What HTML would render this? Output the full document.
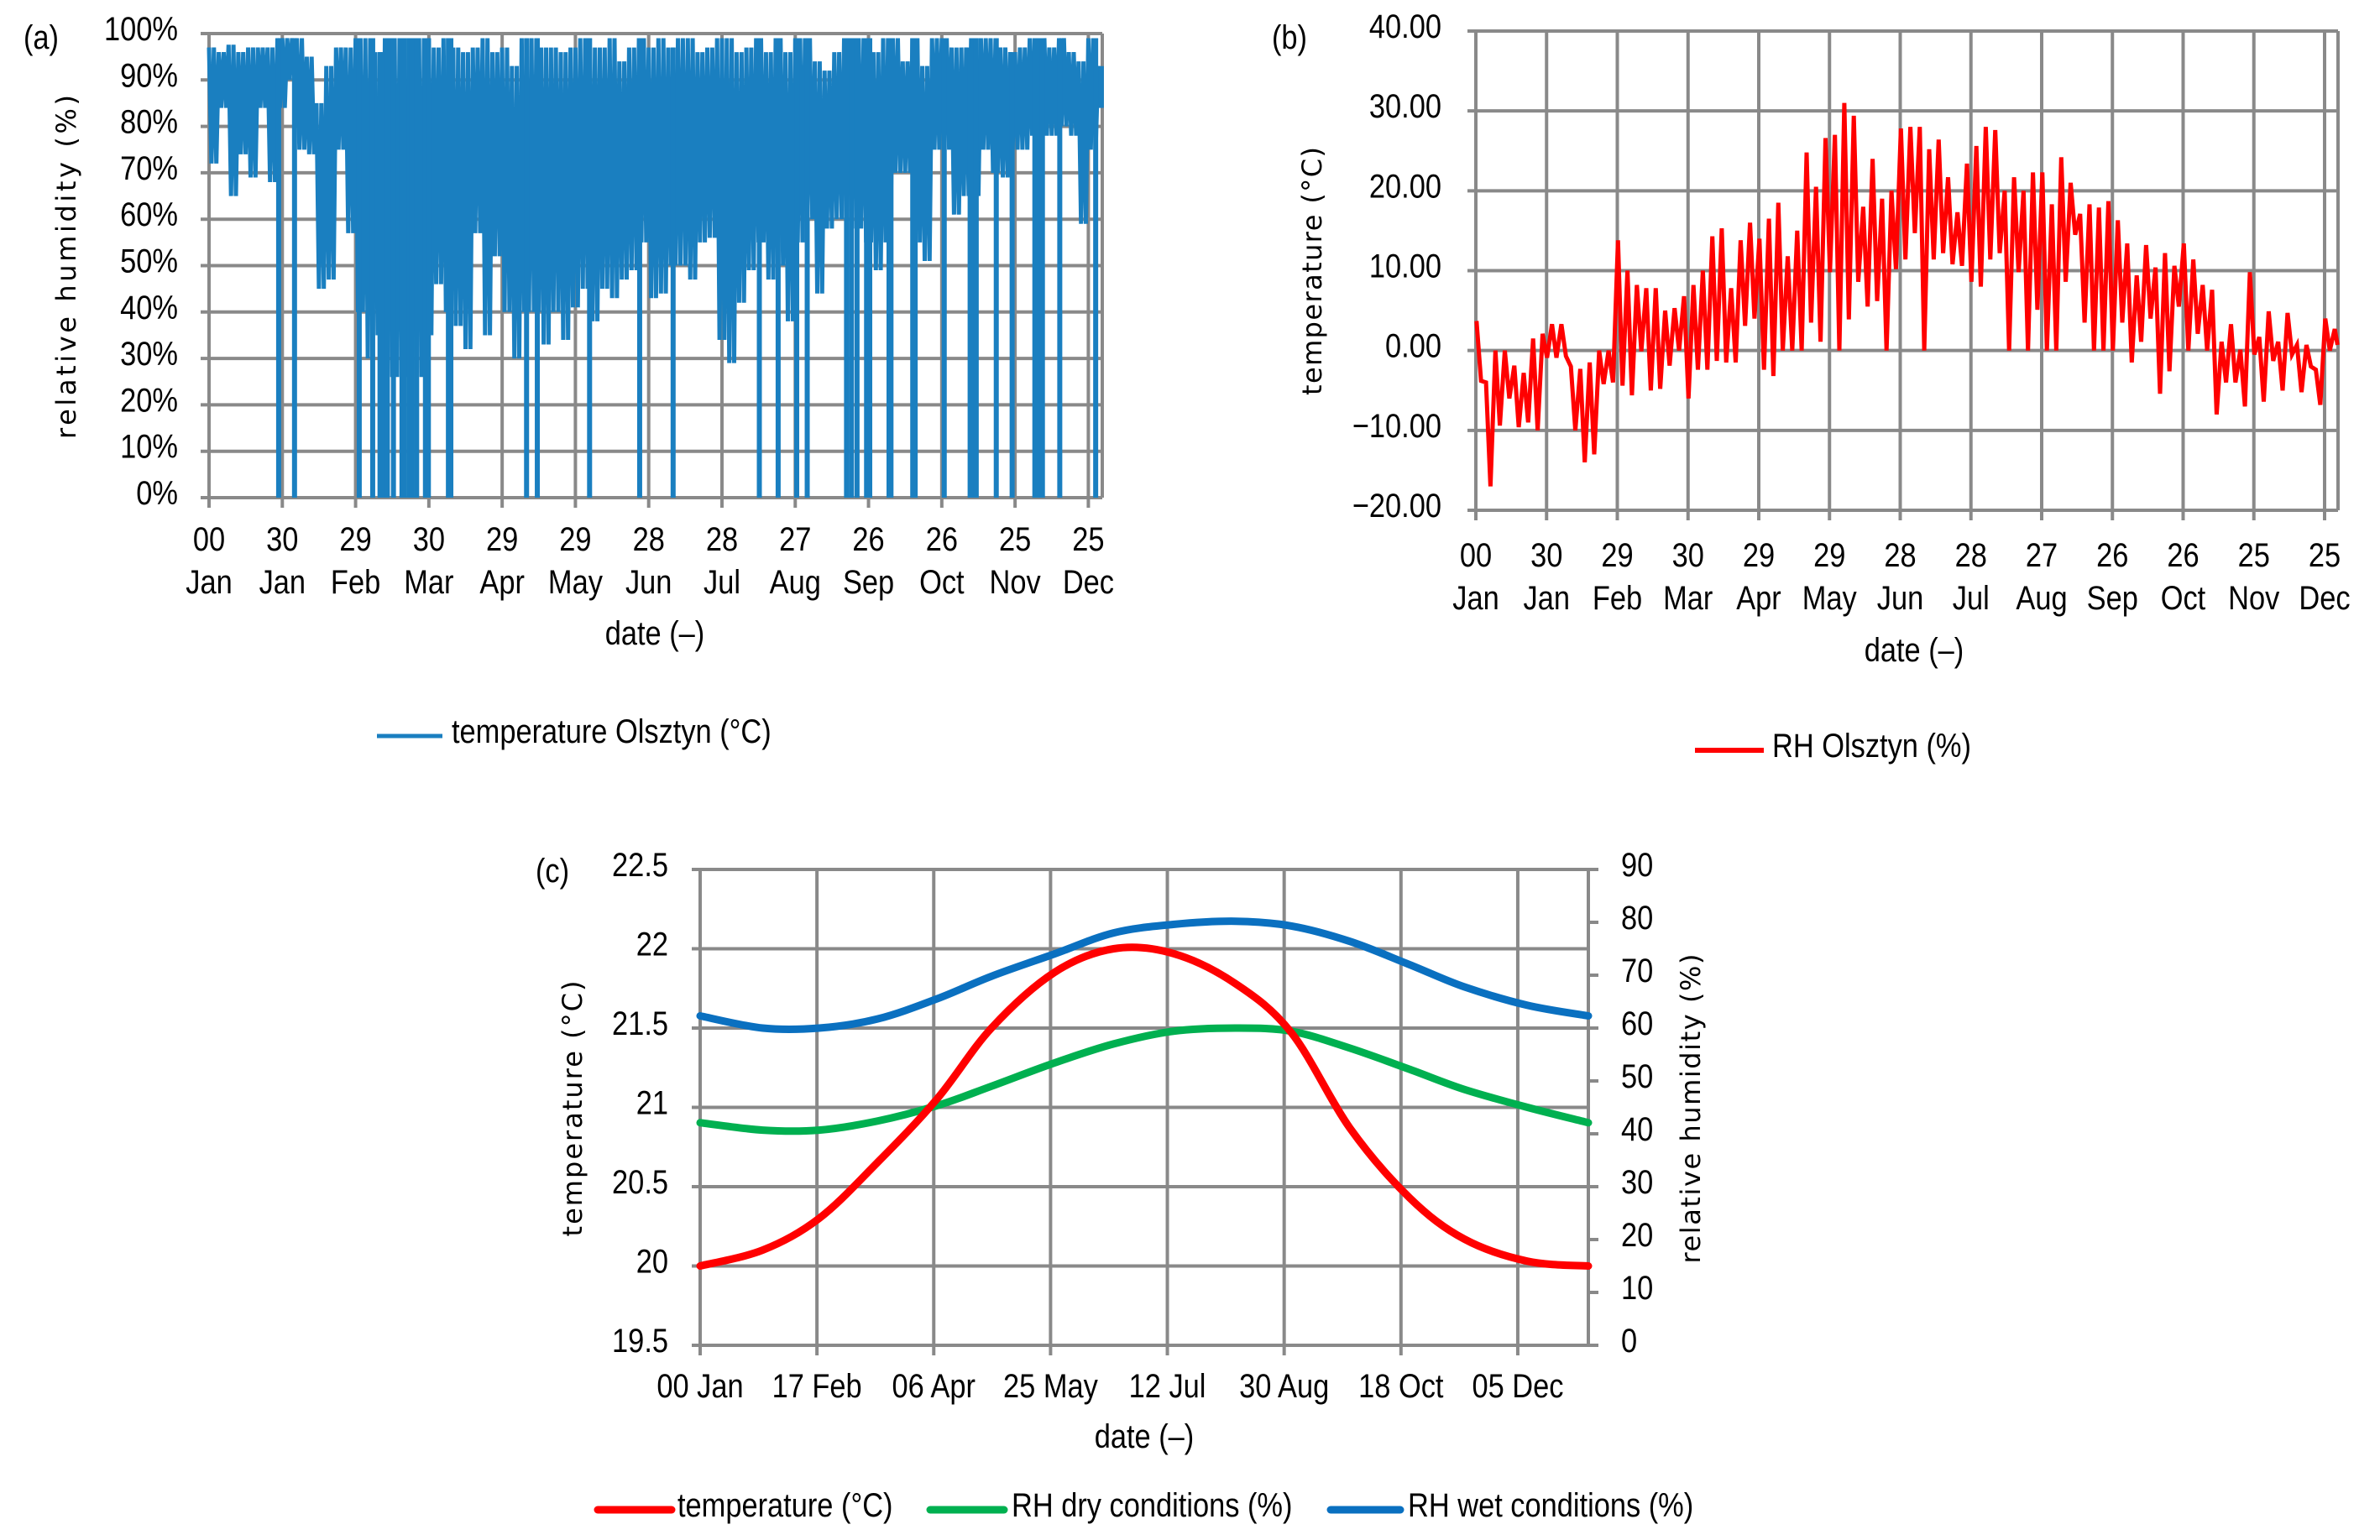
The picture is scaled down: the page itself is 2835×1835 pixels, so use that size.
<!DOCTYPE html>
<html><head><meta charset="utf-8">
<style>
html,body{margin:0;padding:0;background:#fff;}
svg{display:block;}
.tk{font-family:"Liberation Sans Narrow","Liberation Sans",sans-serif;font-size:40px;fill:#000;}
.ttl{font-family:"DejaVu Sans","Liberation Sans",sans-serif;font-size:32px;fill:#000;}
</style></head>
<body>
<svg id="fig" width="2835" height="1835" viewBox="0 0 2835 1835" xmlns="http://www.w3.org/2000/svg"></svg>
<script>
// ---------- data: chart (a) relative humidity, 4-day bins ----------
const aHi = [97,96,97.6,96,97,97,97,99,99,99, 95,85,93,97,97,99,99,96,99,99, 99,99,99,97,99,97,96,97,99,96, 97,93,99,99,97,97,96,97,99,97, 97,99,94,97,99,97, 99,97,99,99, 96,97,99,99,96,97,99,96,99,96, 99,99,94,92,96,99,99,99,96,99, 99,94,99,93,99,99,97,97,99,99, 99,97,96,97,99,99,97,99,96,94, 99,93];
const aLo = [72,84,65,74,69,84,68,84,90,75, 74,45,47,75,57,40,30,35,26,26, 26,26,35,46,40,37,32,57,35,52, 40,30,40,40,33,40,34,41,45,38, 45,43,47,49,55,43, 44,50,50,47,55,56,34,29,42,49, 55,47,50,38,55,60,44,58,60,60, 58,55,49,55,70,70,55,51,75,75, 61,65,65,75,70,69,75,75,78,78, 78,80,78,59,75,84];
const aDropDays = [28.5,35,61.5,67,70,71.3,73,75.5,79,80,82,83,85,88.6,89.8,98,99,130,134.4,155.8,176.3,190,225.3,233,240.6,244.9,261,263,265.3,269.2,270.5,278.4,279.2,288.1,289.1,301,311.6,313.1,314.1,322.3,328.8,338.1,339.4,341.2,348.3,363];
const aYTicks = [0,10,20,30,40,50,60,70,80,90,100];
// ---------- data: chart (b) temperature, 4-day bins ----------
const bHi = [3.7,-4,0,0,-1.9,-2.8,1.5,2.1,3.3,3.3, -2,-2.3,-1.5,0,0,13.8,10,8.2,7.8,7.8, 5,5.3,6.8,8.2,10,14.3,15.3,7.8,13.8,16, 14,16.5,18.5,11.8,15,24.8,20.5,26.6,27,31, 29.4,18,24,19,20,27.8,28, 28,25.2,26.4,21.7,17.3,23.4,25.6,28,27.6,20, 21.7,20,22.3,22.3,18.3,24.2,21,17.1,18.3,17.9, 18.7,16.3,13.4,9.4,13.2,10.4,12.2,10.6,13.4,11.4, 8.2,7.6,1.1,3.3,0.1,9.8,1.7,4.9,1.1,4.7, 0.7,0.7,-2.4,4,2.7];
const bLo = [-3.8,-17,-9.4,-6,-9.6,-9,-10,-0.9,-0.9,-0.7, -10,-14,-13,-4.2,-4,-4.4,-5.6,-0.1,-5,-4.8, -1.9,0,-6,-2.4,-2.4,-1.3,-1.5,-1.5,3.1,4, -2.4,-3.2,0,0,0,3.5,1.1,9.8,0,3.9, 8.6,5.5,6.2,0,10.2,11.4,14.7, 0,11.4,12.2,10.8,10.6,8.6,8,11.4,12.2,0, 9.8,0,5.1,0,0,8.6,14.5,3.5,0,0, 0,3.5,-1.5,1.1,4,-5.4,-2.6,5.5,0,2.1, 0,-8,-4,-4,-7,-0.5,-6.4,-1.3,-5,-0.5, -5.2,-2,-6.8,0,0.7];
const bYTicks = [-20,-10,0,10,20,30,40];
const abDays = ['00','30','29','30','29','29','28','28','27','26','26','25','25'];
const abMonths = ['Jan','Jan','Feb','Mar','Apr','May','Jun','Jul','Aug','Sep','Oct','Nov','Dec'];
// ---------- data: chart (c) design curves ----------
const cDays = [0,25.7,48.9,72.7,97.2,119.7,145.5,169.9,194.4,220,243,267,291.5,314,340,365];
const cTemp = [20.0,20.1,20.3,20.65,21.05,21.5,21.85,22.0,21.97,21.78,21.47,20.87,20.43,20.17,20.03,20.0];
const cRhDry = [42.1,40.7,40.7,42.4,45.3,49,53.4,57,59.4,60,59.4,56.2,52.2,48.4,45,42.1];
const cRhWet = [62.3,60,60,61.7,65.5,69.8,74,78,79.6,80.2,79.3,76.4,72,67.8,64.3,62.3];
const cLeftTicks = [19.5,20,20.5,21,21.5,22,22.5];
const cRightTicks = [0,10,20,30,40,50,60,70,80,90];
const cXLabels = ['00 Jan','17 Feb','06 Apr','25 May','12 Jul','30 Aug','18 Oct','05 Dec'];

const NS='http://www.w3.org/2000/svg';
const svg=document.getElementById('fig');
const GRID='#898989';
const SQ=0.86;
const DY=-6;
function mk(tag,attrs,parent){const e=document.createElementNS(NS,tag);for(const k in attrs)e.setAttribute(k,attrs[k]);(parent||svg).appendChild(e);return e;}
function txt(s,x,y,cls,anchor,parent){
  const t=mk('text',{x:0,y:0,'class':cls,'text-anchor':anchor||'middle'},parent);
  t.setAttribute('transform','translate('+x+','+(y+DY)+')'+(cls==='tk'?' scale('+SQ+',1)':''));
  t.textContent=s;return t;}

// ===== Chart (a) =====
const A={x0:249,x1:1313,y0:40,y1:593,dmax:365.7};
const ax=d=>A.x0+(d/A.dmax)*(A.x1-A.x0);
const ay=v=>A.y1-(v/100)*(A.y1-A.y0);
const ga=mk('g',{});


aYTicks.forEach(v=>{
  const l=mk('line',{x1:A.x0-10,x2:A.x1,y1:ay(v),y2:ay(v),stroke:GRID,'stroke-width':4},ga);
  
  
  const t=txt(v+'%',212,ay(v)+14,'tk','end',ga);
  
  
});
abDays.forEach((d,i)=>{
  const x=ax(i*30);
  const l=mk('line',{x1:x,x2:x,y1:A.y0,y2:A.y1+12,stroke:GRID,'stroke-width':4},ga);
  
  
  const t1=txt(d,x,662,'tk','middle',ga);
  
  
  const t2=txt(abMonths[i],x,713,'tk','middle',ga);
  
  
});
{const l=mk('line',{x1:A.x1,x2:A.x1,y1:A.y0,y2:A.y1,stroke:GRID,'stroke-width':4},ga);

}
let pa='';
aHi.forEach((h,i)=>{const d=i*4;[[d,h],[d+1,aLo[i]],[d+2,h],[d+3,aLo[i]]].forEach(p=>{const dd=Math.min(p[0],365.5);pa+=(pa?'L':'M')+ax(dd).toFixed(1)+','+ay(p[1]).toFixed(1);});});
const lineA=mk('path',{d:pa,fill:'none',stroke:'#1a7fc0','stroke-width':5,'stroke-linejoin':'miter'},ga);


aDropDays.forEach(d=>{
  const s=mk('line',{x1:ax(d),x2:ax(d),y1:ay(aHi[Math.min(91,Math.floor(d/4))]),y2:ay(0),stroke:'#1a7fc0','stroke-width':6},ga);
  
  
});
{const t=txt('(a)',49,64,'tk','middle',ga);
const yt=txt('relative humidity (%)',0,0,'ttl','middle',ga);yt.setAttribute('transform','translate(90,318) rotate(-90)');yt.setAttribute('textLength','410');


const xt=txt('date (–)',780,774,'tk','middle',ga);
const lg=mk('line',{x1:449,x2:527,y1:877,y2:877,stroke:'#1a7fc0','stroke-width':5},ga);
const lt=txt('temperature Olsztyn (°C)',538,891,'tk','start',ga);}

// ===== Chart (b) =====
const B={x0:1758,x1:2785,y0:37,y1:608,dmax:365.7};
const bx=d=>B.x0+(d/B.dmax)*(B.x1-B.x0);
const by=v=>B.y1-((v+20)/60)*(B.y1-B.y0);
const gb=mk('g',{});


bYTicks.forEach(v=>{
  const l=mk('line',{x1:B.x0-10,x2:B.x1,y1:by(v),y2:by(v),stroke:GRID,'stroke-width':4},gb);
  
  
  const t=txt((v<0?'\u2212':'')+Math.abs(v).toFixed(2),1717,by(v)+14,'tk','end',gb);
  
  
});
abDays.forEach((d,i)=>{
  const x=bx(i*30);
  const l=mk('line',{x1:x,x2:x,y1:B.y0,y2:B.y1+12,stroke:GRID,'stroke-width':4},gb);
  
  
  const t1=txt(d,x,681,'tk','middle',gb);
  
  
  const t2=txt(abMonths[i],x,732,'tk','middle',gb);
  
  
});
{const l=mk('line',{x1:B.x1,x2:B.x1,y1:B.y0,y2:B.y1,stroke:GRID,'stroke-width':4},gb);

}
let pb='';
bHi.forEach((h,i)=>{const d=i*4;[[d+0.3,h],[d+2.2,bLo[i]]].forEach(p=>{const dd=Math.min(p[0],365.5);pb+=(pb?'L':'M')+bx(dd).toFixed(1)+','+by(p[1]).toFixed(1);});});
const lineB=mk('path',{d:pb,fill:'none',stroke:'#ff0000','stroke-width':5},gb);


{const t=txt('(b)',1536,64,'tk','middle',gb);
const yt=txt('temperature (°C)',0,0,'ttl','middle',gb);yt.setAttribute('transform','translate(1574,323) rotate(-90)');yt.setAttribute('textLength','296');


const xt=txt('date (–)',2280,794,'tk','middle',gb);
const lg=mk('line',{x1:2019,x2:2101,y1:894,y2:894,stroke:'#ff0000','stroke-width':6},gb);
const lt=txt('RH Olsztyn (%)',2111,908,'tk','start',gb);}

// ===== Chart (c) =====
const C={x0:834,x1:1892,y0:1036,y1:1603,dmax:365};
const cx=d=>C.x0+(d/C.dmax)*(C.x1-C.x0);
const cyL=v=>C.y1-((v-19.5)/3)*(C.y1-C.y0);
const cyR=v=>C.y1-(v/90)*(C.y1-C.y0);
const gc=mk('g',{});


cLeftTicks.forEach(v=>{
  const l=mk('line',{x1:C.x0-10,x2:C.x1,y1:cyL(v),y2:cyL(v),stroke:GRID,'stroke-width':4},gc);
  
  
  const t=txt(String(v),796,cyL(v)+14,'tk','end',gc);
  
  
});
cRightTicks.forEach(v=>{
  const l=mk('line',{x1:C.x1,x2:C.x1+12,y1:cyR(v),y2:cyR(v),stroke:GRID,'stroke-width':4},gc);
  
  
  const t=txt(String(v),1931,cyR(v)+14,'tk','start',gc);
  
  
});
cXLabels.forEach((s,i)=>{
  const x=cx(i*48);
  const l=mk('line',{x1:x,x2:x,y1:C.y0,y2:C.y1+12,stroke:GRID,'stroke-width':4},gc);
  
  
  const t=txt(s,x,1671,'tk','middle',gc);
  
  
});
{const l=mk('line',{x1:C.x1,x2:C.x1,y1:C.y0,y2:C.y1,stroke:GRID,'stroke-width':4},gc);

}
function smooth(xs,ys){let d='M'+xs[0].toFixed(1)+','+ys[0].toFixed(1);for(let i=0;i<xs.length-1;i++){const x0=xs[Math.max(0,i-1)],y0=ys[Math.max(0,i-1)],x1=xs[i],y1=ys[i],x2=xs[i+1],y2=ys[i+1],x3=xs[Math.min(xs.length-1,i+2)],y3=ys[Math.min(xs.length-1,i+2)];d+='C'+(x1+(x2-x0)/6).toFixed(1)+','+(y1+(y2-y0)/6).toFixed(1)+' '+(x2-(x3-x1)/6).toFixed(1)+','+(y2-(y3-y1)/6).toFixed(1)+' '+x2.toFixed(1)+','+y2.toFixed(1);}return d;}
const xsC=cDays.map(cx);
const pWet=mk('path',{d:smooth(xsC,cRhWet.map(cyR)),fill:'none',stroke:'#0a70c0','stroke-width':9,'stroke-linecap':'round'},gc);


const pDry=mk('path',{d:smooth(xsC,cRhDry.map(cyR)),fill:'none',stroke:'#00b050','stroke-width':9,'stroke-linecap':'round'},gc);


const pT=mk('path',{d:smooth(xsC,cTemp.map(cyL)),fill:'none',stroke:'#ff0000','stroke-width':9,'stroke-linecap':'round'},gc);


{const t=txt('(c)',658,1057,'tk','middle',gc);
const yt=txt('temperature (°C)',0,0,'ttl','middle',gc);yt.setAttribute('transform','translate(693,1321) rotate(-90)');yt.setAttribute('textLength','305');


const rt=txt('relative humidity (%)',0,0,'ttl','middle',gc);rt.setAttribute('transform','translate(2025,1321) rotate(-90)');rt.setAttribute('textLength','369');


const xt=txt('date (–)',1363,1731,'tk','middle',gc);
const L=[[712,800,807,'#ff0000','temperature (°C)','c-legend-temperature'],[1108,1196,1205,'#00b050','RH dry conditions (%)','c-legend-rh-dry'],[1585,1668,1677,'#0a70c0','RH wet conditions (%)','c-legend-rh-wet']];
L.forEach(e=>{
  const s=mk('line',{x1:e[0],x2:e[1],y1:1799,y2:1799,stroke:e[3],'stroke-width':9,'stroke-linecap':'round'},gc);
  
  
  const t=txt(e[4],e[2],1813,'tk','start',gc);
  
  
});}
</script>
</body></html>
